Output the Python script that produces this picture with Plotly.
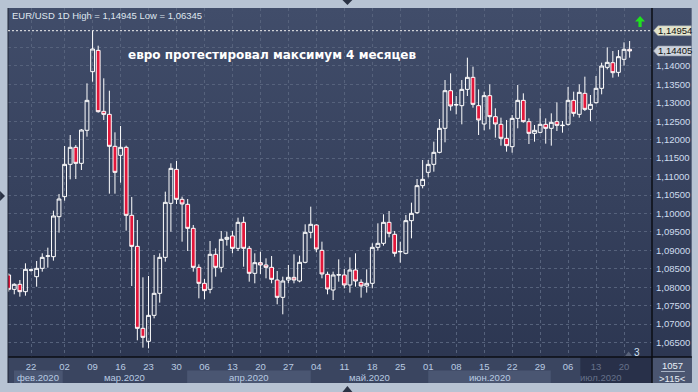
import base64
import plotly.graph_objects as go

# ---------------- data (EUR/USD daily candles) ----------------
opens = [1.08333, 1.07944, 1.08080, 1.07881, 1.08462, 1.08287, 1.08513, 1.08840, 1.08829, 1.09913,
         1.10456, 1.11332, 1.11793, 1.11359, 1.12254, 1.13843, 1.14421, 1.12768, 1.12687, 1.11820,
         1.11576, 1.11793, 1.09950, 1.09109, 1.06887, 1.06535, 1.07239, 1.07836, 1.08811, 1.10275,
         1.11196, 1.10383, 1.10248, 1.09597, 1.08540, 1.08107, 1.07944, 1.08893, 1.08540, 1.09299,
         1.09390, 1.09055, 1.09760, 1.09055, 1.08378, 1.08667, 1.08604, 1.08540, 1.08197, 1.07727,
         1.08197, 1.08269, 1.08170, 1.08676, 1.09489, 1.09688, 1.09001, 1.08351, 1.07926, 1.08330,
         1.08333, 1.08062, 1.08468, 1.08134, 1.08034, 1.08107, 1.09082, 1.09191, 1.09760, 1.09435,
         1.08960, 1.08920, 1.09805, 1.10022, 1.10754, 1.11115, 1.11332, 1.11657, 1.12308, 1.13328,
         1.12940, 1.12922, 1.13364, 1.13690, 1.12922, 1.12425, 1.13193, 1.12624, 1.12416, 1.12037,
         1.11811, 1.12578, 1.13066, 1.12488, 1.12172, 1.12199, 1.12416, 1.12308, 1.12488, 1.12380,
         1.12416, 1.13066, 1.12687, 1.13256, 1.12822, 1.13003, 1.13392, 1.13961, 1.14087, 1.13825,
         1.14178, 1.14449]
highs = [1.08378, 1.08107, 1.08197, 1.08649, 1.08504, 1.08712, 1.08920, 1.09073, 1.10076, 1.10528,
         1.11829, 1.12127, 1.11856, 1.12289, 1.13527, 1.14945, 1.14548, 1.13663, 1.13328, 1.12199,
         1.12371, 1.11838, 1.10447, 1.09823, 1.08269, 1.08305, 1.08875, 1.08920, 1.10591, 1.11359,
         1.11422, 1.10456, 1.10392, 1.09688, 1.08622, 1.08224, 1.09254, 1.09055, 1.09525, 1.09507,
         1.09525, 1.09886, 1.09913, 1.09119, 1.08920, 1.08965, 1.08784, 1.08847, 1.08441, 1.08287,
         1.08604, 1.08893, 1.08856, 1.09706, 1.10185, 1.09706, 1.09236, 1.08423, 1.08423, 1.08757,
         1.08495, 1.08811, 1.08920, 1.08215, 1.08486, 1.09191, 1.09733, 1.09977, 1.10067, 1.09525,
         1.09236, 1.09959, 1.10293, 1.10934, 1.11449, 1.11449, 1.11946, 1.12560, 1.13617, 1.13798,
         1.13184, 1.13617, 1.14223, 1.13979, 1.13364, 1.13301, 1.13500, 1.12850, 1.12597, 1.12533,
         1.12669, 1.13482, 1.13256, 1.12578, 1.12398, 1.12850, 1.12578, 1.12714, 1.13012, 1.12506,
         1.13428, 1.13301, 1.13500, 1.13708, 1.13211, 1.13726, 1.14087, 1.14503, 1.14403, 1.14430,
         1.14638, 1.14674]
lows = [1.07881, 1.07809, 1.07745, 1.07772, 1.08423, 1.08016, 1.08423, 1.08531, 1.08721, 1.09480,
        1.10347, 1.10925, 1.10934, 1.11178, 1.12082, 1.13572, 1.12732, 1.12533, 1.10537, 1.10537,
        1.10835, 1.09534, 1.08034, 1.06562, 1.06363, 1.06345, 1.07158, 1.07583, 1.08694, 1.09507,
        1.10257, 1.09236, 1.08983, 1.08423, 1.07700, 1.07673, 1.07836, 1.08287, 1.08405, 1.09128,
        1.08920, 1.08983, 1.08558, 1.08152, 1.08107, 1.08360, 1.08242, 1.08107, 1.07538, 1.07267,
        1.08107, 1.08107, 1.08134, 1.08649, 1.09326, 1.08947, 1.08242, 1.07809, 1.07655, 1.08152,
        1.07971, 1.07854, 1.08016, 1.07718, 1.07854, 1.07971, 1.08992, 1.09128, 1.09353, 1.08829,
        1.08667, 1.08893, 1.09326, 1.09986, 1.10681, 1.10980, 1.11133, 1.11630, 1.11928, 1.12786,
        1.12687, 1.12416, 1.13184, 1.12868, 1.12127, 1.12254, 1.12280, 1.12055, 1.11838, 1.11675,
        1.11648, 1.12308, 1.12461, 1.11883, 1.11946, 1.12172, 1.11892, 1.11838, 1.12235, 1.12190,
        1.12380, 1.12624, 1.12597, 1.12777, 1.12506, 1.12976, 1.13229, 1.13906, 1.13681, 1.13708,
        1.14006, 1.14223]
closes = [1.07944, 1.08080, 1.07881, 1.08486, 1.08470, 1.08513, 1.08811, 1.08850, 1.09932, 1.10392,
          1.11332, 1.11793, 1.11359, 1.12262, 1.13066, 1.14458, 1.12759, 1.12687, 1.11820, 1.11115,
          1.11793, 1.09950, 1.09109, 1.06887, 1.06643, 1.07239, 1.07836, 1.08811, 1.10302, 1.11223,
          1.10383, 1.10257, 1.09597, 1.08540, 1.08107, 1.07908, 1.08893, 1.08540, 1.09299, 1.09353,
          1.09055, 1.09760, 1.09055, 1.08378, 1.08667, 1.08604, 1.08540, 1.08215, 1.07727, 1.08170,
          1.08269, 1.08197, 1.08676, 1.09489, 1.09706, 1.09037, 1.08360, 1.07953, 1.08333, 1.08340,
          1.08062, 1.08468, 1.08170, 1.08034, 1.08107, 1.09082, 1.09191, 1.09760, 1.09462, 1.08920,
          1.08970, 1.09805, 1.10004, 1.10754, 1.10925, 1.11332, 1.11657, 1.12308, 1.13328, 1.12913,
          1.12950, 1.13364, 1.13690, 1.12958, 1.12533, 1.13193, 1.12624, 1.12425, 1.12037, 1.11838,
          1.12578, 1.13066, 1.12488, 1.12172, 1.12254, 1.12416, 1.12308, 1.12470, 1.12389, 1.12390,
          1.13066, 1.12714, 1.13283, 1.12822, 1.12958, 1.13392, 1.13997, 1.14096, 1.13816, 1.14250,
          1.14449, 1.14405]

tick_pos = [4, 10, 15, 20, 25, 30, 35, 40, 45, 50, 55, 60, 65, 70, 75, 80, 85, 90, 95, 100, 105, 110]
tick_text = ["22", "02", "09", "16", "23", "30", "06", "13", "20", "27", "04", "11",
             "18", "25", "01", "08", "15", "22", "29", "06", "13", "20"]
month_names = ["фев.2020", "мар.2020", "апр.2020", "май.2020", "июн.2020", "июл.2020"]
month_edges = [0.95, 9.66, 31.9, 54.0, 75.0, 96.9, 115.0]
price_ticks = [1.065, 1.07, 1.075, 1.08, 1.085, 1.09, 1.095, 1.10, 1.105, 1.11,
               1.115, 1.12, 1.125, 1.13, 1.135, 1.14, 1.145]
hidden_price_ticks = [1.145]   # covered by the price tag in the reference

symbol = "EUR/USD"
timeframe = "1D"
period_high = 1.14945
period_low = 1.06345
high_level = 1.14954
last_price = closes[-1]
title_text = "евро протестировал максимум 4 месяцев"
bars_count = "1057"
visible_bars = ">115<"

# ---------------- layout geometry ----------------
W, H = 698, 392
L, R, T, B = 8, 655, 8, 357          # plot area in pixels
X_MIN, X_MAX = -0.12, 115.0
Y_MIN, Y_MAX = 1.0611, 1.15569


def fmt(v):
    return f"{v:.5f}".replace(".", ",")


def PX(px):
    return (px - L) / (R - L)


def PY(py):
    return (B - py) / (B - T)


def IX(i):
    return (i - X_MIN) / (X_MAX - X_MIN)


def VY(v):
    return (v - Y_MIN) / (Y_MAX - Y_MIN)


x_idx = list(range(len(opens)))

fig = go.Figure()
fig.add_trace(go.Candlestick(
    x=x_idx, open=opens, high=highs, low=lows, close=closes,
    increasing=dict(line=dict(color="#ffffff", width=1), fillcolor="rgba(0,0,0,0)"),
    decreasing=dict(line=dict(color="#ffffff", width=1), fillcolor="#e2173b"),
    whiskerwidth=0, showlegend=False, hoverinfo="skip",
))

shapes = []
annotations = []

# strip under plot
shapes.append(dict(type="rect", xref="paper", yref="paper", x0=PX(L), x1=PX(R), y0=PY(383), y1=PY(B),
                   fillcolor="#3a4560", line_width=0, layer="below"))
for k in range(len(month_names)):
    if k % 2 == 0 and k < 5:
        shapes.append(dict(type="rect", xref="paper", yref="paper",
                           x0=max(IX(month_edges[k]), 0), x1=IX(month_edges[k + 1]),
                           y0=PY(383), y1=PY(370.5), fillcolor="#4a5672", line_width=0, layer="below"))
# dimmed region on the right of strip
shapes.append(dict(type="rect", xref="paper", yref="paper", x0=PX(583), x1=PX(R), y0=PY(383), y1=PY(B),
                   fillcolor="#283049", line_width=0, layer="below"))
# bottom-right box
shapes.append(dict(type="rect", xref="paper", yref="paper", x0=PX(R), x1=PX(695), y0=PY(383), y1=PY(B),
                   fillcolor="#4a5570", line_width=0, layer="below"))
# separators
shapes.append(dict(type="line", xref="paper", yref="paper", x0=PX(L), x1=PX(695), y0=PY(B), y1=PY(B),
                   line=dict(color="#0b0e15", width=1.5)))
shapes.append(dict(type="line", xref="paper", yref="paper", x0=PX(R), x1=PX(R), y0=PY(383), y1=PY(T),
                   line=dict(color="#0b0e15", width=1.5)))
shapes.append(dict(type="line", xref="paper", yref="paper", x0=PX(L), x1=PX(L), y0=PY(383), y1=PY(T),
                   line=dict(color="#1e2535", width=1)))
shapes.append(dict(type="line", xref="paper", yref="paper", x0=PX(664), x1=PX(688), y0=PY(371.5), y1=PY(371.5),
                   line=dict(color="#a9b4c6", width=1)))

# high level dotted line
shapes.append(dict(type="line", xref="paper", yref="paper", x0=0, x1=1, y0=VY(high_level), y1=VY(high_level),
                   line=dict(color="#f2f2f2", width=1, dash="2px,2px")))

# price tags
for lvl, bg in [(high_level, "#e3e4cc"), (last_price, "#cdd3dd")]:
    yc = VY(lvl)
    hh = 5.0 / (B - T)
    shapes.append(dict(type="path", xref="paper", yref="paper",
                       path=f"M {PX(656.5)},{yc} L {PX(661)},{yc + hh} L {PX(694.5)},{yc + hh} "
                            f"L {PX(694.5)},{yc - hh} L {PX(661)},{yc - hh} Z",
                       fillcolor=bg, line=dict(color="#8a93a3", width=0.6)))
    annotations.append(dict(xref="paper", yref="paper", x=PX(678), y=yc, text=fmt(lvl), showarrow=False,
                            xanchor="center", yanchor="middle",
                            font=dict(family="Liberation Sans", size=9.5, color="#111111")))

# green arrow
gx, gy = 643, 16
shapes.append(dict(type="path", xref="paper", yref="paper",
                   path=f"M {PX(gx)},{PY(gy)} L {PX(gx + 5)},{PY(gy + 5.5)} L {PX(gx + 1.6)},{PY(gy + 5.5)} "
                        f"L {PX(gx + 1.6)},{PY(gy + 11)} L {PX(gx - 1.6)},{PY(gy + 11)} L {PX(gx - 1.6)},{PY(gy + 5.5)} "
                        f"L {PX(gx - 5)},{PY(gy + 5.5)} Z",
                   fillcolor="#1fe01f", line_width=0))

# splitter arrows on the edges
shapes.append(dict(type="path", xref="paper", yref="paper",
                   path=f"M {PX(344)},{PY(0)} L {PX(354)},{PY(0)} L {PX(349)},{PY(5)} Z",
                   fillcolor="#2a3244", line_width=0))
shapes.append(dict(type="path", xref="paper", yref="paper",
                   path=f"M {PX(344)},{PY(392)} L {PX(354)},{PY(392)} L {PX(349)},{PY(386)} Z",
                   fillcolor="#2a3244", line_width=0))
shapes.append(dict(type="path", xref="paper", yref="paper",
                   path=f"M {PX(0)},{PY(191)} L {PX(0)},{PY(201)} L {PX(5)},{PY(196)} Z",
                   fillcolor="#2a3244", line_width=0))
shapes.append(dict(type="path", xref="paper", yref="paper",
                   path=f"M {PX(628)},{PY(356)} L {PX(635)},{PY(356)} L {PX(631.5)},{PY(351.5)} Z",
                   fillcolor="#59637a", line_width=0))

# month labels
for k, name in enumerate(month_names):
    cx = (max(IX(month_edges[k]), 0) + min(IX(month_edges[k + 1]), 1)) / 2
    color = "#66718a" if k == len(month_names) - 1 else "#b9cbe2"
    annotations.append(dict(xref="paper", yref="paper", x=cx, y=PY(377), text=name, showarrow=False,
                            xanchor="center", yanchor="middle",
                            font=dict(family="Liberation Sans", size=9.5, color=color)))

# header text
annotations.append(dict(xref="paper", yref="paper", x=PX(10), y=PY(15.5),
                        text=f"{symbol} {timeframe} High = {fmt(period_high)} Low = {fmt(period_low)}",
                        showarrow=False, xanchor="left", yanchor="middle",
                        font=dict(family="Liberation Sans", size=9.5, color="#dfe6ef")))
# chart comment
annotations.append(dict(xref="paper", yref="paper", x=PX(127), y=PY(55), text=title_text,
                        showarrow=False, xanchor="left", yanchor="middle",
                        font=dict(family="DejaVu Sans", size=12, color="#ffffff", weight="bold")))
# misc labels
annotations.append(dict(xref="paper", yref="paper", x=PX(640), y=PY(352), text="3", showarrow=False,
                        xanchor="center", yanchor="middle",
                        font=dict(family="Liberation Sans", size=10, color="#d2e2f5")))
annotations.append(dict(xref="paper", yref="paper", x=PX(676), y=PY(365), text=bars_count, showarrow=False,
                        xanchor="center", yanchor="middle",
                        font=dict(family="Liberation Sans", size=9.5, color="#e6edf5")))
annotations.append(dict(xref="paper", yref="paper", x=PX(676), y=PY(378), text=visible_bars, showarrow=False,
                        xanchor="center", yanchor="middle",
                        font=dict(family="Liberation Sans", size=9.5, color="#e6edf5")))

# background gradient image
svg = ('<svg xmlns="http://www.w3.org/2000/svg" width="100" height="100" viewBox="0 0 100 100" '
       'preserveAspectRatio="none"><defs><linearGradient id="g" x1="0" y1="0" x2="0" y2="1">'
       '<stop offset="0" stop-color="#414d6a"/><stop offset="1" stop-color="#2b3550"/>'
       '</linearGradient></defs><rect width="100" height="100" fill="url(#g)"/></svg>')
src = "data:image/svg+xml;base64," + base64.b64encode(svg.encode()).decode()
fig.add_layout_image(dict(source=src, xref="paper", yref="paper", x=PX(L), y=PY(T),
                          sizex=PX(695) - PX(L), sizey=PY(T) - PY(383),
                          xanchor="left", yanchor="top", sizing="stretch", layer="below"))

tick_labels = [f'<span style="fill:#66718a">{t}</span>' if p > 102 else t for p, t in zip(tick_pos, tick_text)]
price_labels = ["" if v in hidden_price_ticks else fmt(v) for v in price_ticks]

fig.update_layout(
    width=W, height=H,
    margin=dict(l=L, r=W - R, t=T, b=H - B, pad=0),
    paper_bgcolor="#b7c3d3",
    plot_bgcolor="rgba(0,0,0,0)",
    separators=", ",
    boxgap=0.2, boxgroupgap=0.15,
    shapes=shapes,
    annotations=annotations,
    xaxis=dict(range=[X_MIN, X_MAX], rangeslider=dict(visible=False), tickmode="array",
               tickvals=tick_pos, ticktext=tick_labels, showgrid=True, gridcolor="#56627c",
               griddash="3px,3px", gridwidth=1, zeroline=False, showline=False, ticks="",
               ticklabelstandoff=2,
               tickfont=dict(family="Liberation Sans", size=9.5, color="#b9cbe2"), fixedrange=True),
    yaxis=dict(range=[Y_MIN, Y_MAX], side="right", tickmode="array", tickvals=price_ticks,
               ticktext=price_labels, showgrid=True, gridcolor="#56627c",
               griddash="3px,3px", gridwidth=1, zeroline=False, showline=False, ticks="",
               ticklabelstandoff=3,
               tickfont=dict(family="Liberation Sans", size=9.5, color="#cfdcee"), fixedrange=True),
)

fig.write_html("out.html")
